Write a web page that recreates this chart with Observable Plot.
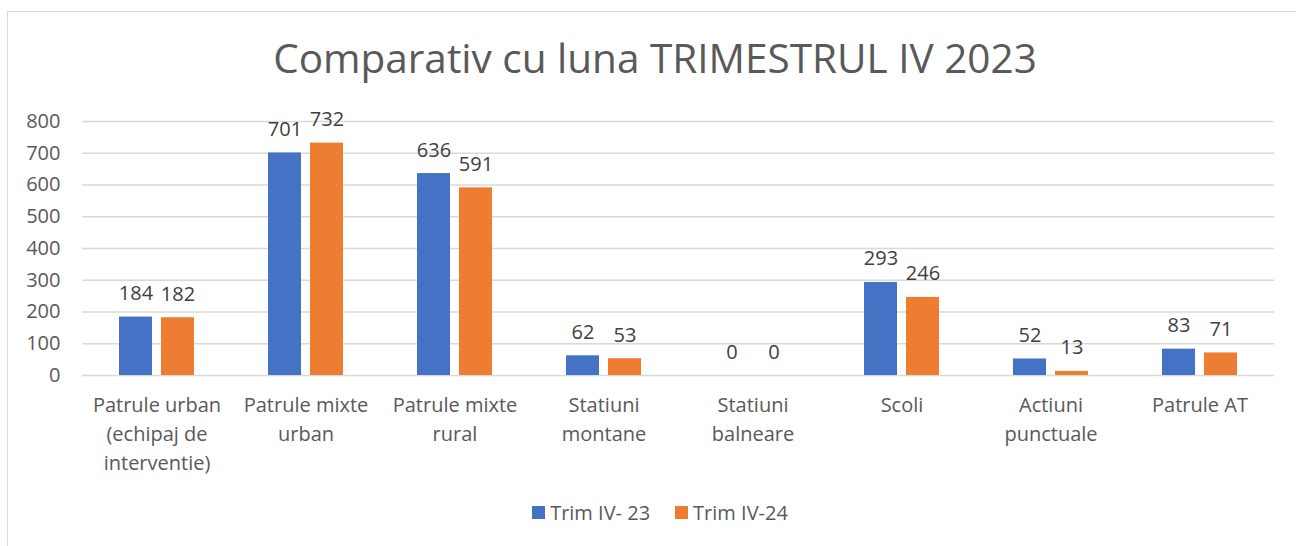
<!DOCTYPE html>
<html>
<head>
<meta charset="utf-8">
<script src="https://cdn.jsdelivr.net/npm/d3@7"></script>
<script src="https://cdn.jsdelivr.net/npm/@observablehq/plot@0.6"></script>
<style>
  html, body { margin: 0; padding: 0; background: #fff; }
  #wrap { position: relative; width: 1296px; height: 546px; overflow: hidden; font-family: "Open Sans", sans-serif; }
  #frame { position: absolute; left: 7px; top: 11px; width: 1300px; height: 560px; border: 1px solid #d9d9d9; box-sizing: border-box; }
  #title { position: absolute; left: 0; width: 1310px; top: 38px; text-align: center; font-size: 40.5px; color: #595959; line-height: 1; white-space: nowrap; }
  #chart { position: absolute; left: 0; top: 0; }
  #legend { position: absolute; top: 499px; left: 0; width: 1320px; display: flex; justify-content: center; gap: 25px; font-size: 20px; color: #595959; }
  .item { display: flex; align-items: center; gap: 5px; }
  .sw { width: 13px; height: 13px; display: inline-block; }
</style>
</head>
<body>
<div id="wrap">
  <div id="frame"></div>
  <div id="title">Comparativ cu luna TRIMESTRUL IV 2023</div>
  <div id="chart"></div>
  <div id="legend"></div>
</div>
<script>
const categories = [
  "Patrule urban\n(echipaj de\ninterventie)",
  "Patrule mixte\nurban",
  "Patrule mixte\nrural",
  "Statiuni\nmontane",
  "Statiuni\nbalneare",
  "Scoli",
  "Actiuni\npunctuale",
  "Patrule AT"
];
const seriesNames = ["Trim IV- 23", "Trim IV-24"];
const trim23 = [184, 701, 636, 62, 0, 293, 52, 83];
const trim24 = [182, 732, 591, 53, 0, 246, 13, 71];
const colors = ["#4472C4", "#ED7D31"];
const yTicks = [0, 100, 200, 300, 400, 500, 600, 700, 800];

const data = [];
categories.forEach((c, i) => {
  data.push({cat: c, series: seriesNames[0], value: trim23[i]});
  data.push({cat: c, series: seriesNames[1], value: trim24[i]});
});

const font = "Open Sans, sans-serif";
const chart = Plot.plot({
  width: 1296,
  height: 546,
  marginLeft: 80,
  marginRight: 20,
  marginTop: 121,
  marginBottom: 171,
  style: {fontFamily: font, background: "transparent", overflow: "visible"},
  fx: {domain: categories, padding: 0, axis: null},
  x: {domain: seriesNames, paddingInner: 0.21, paddingOuter: 0.84, axis: null},
  y: {domain: [0, 800], ticks: yTicks, tickSize: 0, tickPadding: 22, label: null, tickFormat: d => String(d)},
  color: {domain: seriesNames, range: colors},
  marks: [
    Plot.ruleY(yTicks, {stroke: "#d9d9d9", strokeWidth: 1.3}),
    Plot.barY(data, {fx: "cat", x: "series", y: "value", fill: "series"}),
    Plot.text(data, {fx: "cat", x: "series", y: "value", text: d => String(d.value), lineAnchor: "bottom", dy: -17, fontSize: 20, fill: "#404040"}),
    Plot.text(categories, {fx: d => d, text: d => d, frameAnchor: "bottom", lineAnchor: "top", dy: 16, lineHeight: 1.45, fontSize: 20, fill: "#595959"})
  ]
});
chart.querySelectorAll("g[aria-label='y-axis tick label']").forEach(el => {
  el.setAttribute("font-size", "20");
  el.setAttribute("fill", "#595959");
});
document.getElementById("chart").appendChild(chart);

const legend = document.getElementById("legend");
seriesNames.forEach((s, i) => {
  const it = document.createElement("div");
  it.className = "item";
  it.innerHTML = `<span class="sw" style="background:${colors[i]}"></span><span>${s}</span>`;
  legend.appendChild(it);
});
</script>
</body>
</html>
